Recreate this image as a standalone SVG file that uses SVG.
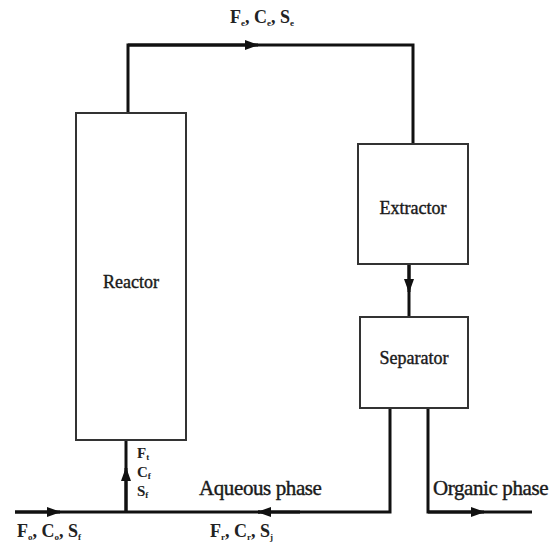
<svg xmlns="http://www.w3.org/2000/svg" width="560" height="550" viewBox="0 0 560 550">
<defs>
<marker id="ah" viewBox="0 0 14 10" refX="13" refY="5" markerWidth="14" markerHeight="10" markerUnits="userSpaceOnUse" orient="auto">
<path d="M0,0 L14,5 L0,10 Z" fill="#111"/>
</marker>
</defs>
<style>
.box{fill:#fff;stroke:#333;stroke-width:2}
.ln{fill:none;stroke:#111;stroke-width:3}
.t{font-family:"Liberation Serif","Times New Roman",serif;font-size:18px;fill:#1a1a1a;stroke:#1a1a1a;stroke-width:0.4}
.p{font-family:"Liberation Serif","Times New Roman",serif;font-size:21px;fill:#1a1a1a;stroke:#1a1a1a;stroke-width:0.4;letter-spacing:-0.4px}
.l{font-family:"Liberation Serif","Times New Roman",serif;font-size:18px;font-weight:bold;fill:#222}
.v{font-size:15px}
.s{font-size:9px}
</style>
<rect width="560" height="550" fill="#fff"/>
<g id="connectors">
<polyline class="ln" points="128,112 128,45 413,45 413,143"/>
<line class="ln" x1="128" y1="45" x2="258" y2="45" marker-end="url(#ah)"/>
<line class="ln" x1="409" y1="265" x2="409" y2="317"/>
<line class="ln" x1="409" y1="265" x2="409" y2="292" marker-end="url(#ah)"/>
<line class="ln" x1="15" y1="512" x2="260" y2="512"/>
<line class="ln" x1="15" y1="512" x2="60" y2="512" marker-end="url(#ah)"/>
<line class="ln" x1="126" y1="512" x2="126" y2="440"/>
<line class="ln" x1="126" y1="512" x2="126" y2="468" marker-end="url(#ah)"/>
<polyline class="ln" points="390,409 390,512 258,512"/>
<line class="ln" x1="300" y1="512" x2="258" y2="512" marker-end="url(#ah)"/>
<polyline class="ln" points="428,409 428,512 532,512"/>
<line class="ln" x1="428" y1="512" x2="484" y2="512" marker-end="url(#ah)"/>
</g>
<g id="reactor">
<rect class="box" x="76" y="113" width="110" height="327"/>
<text class="t" x="131" y="288" text-anchor="middle">Reactor</text>
</g>
<g id="extractor">
<rect class="box" x="358" y="144" width="110" height="120"/>
<text class="t" x="413" y="214" text-anchor="middle">Extractor</text>
</g>
<g id="separator">
<rect class="box" x="360" y="317" width="108" height="91"/>
<text class="t" x="414" y="364" text-anchor="middle">Separator</text>
</g>
<g id="labels">
<text class="l" x="230" y="23">F<tspan class="s" dy="3">e</tspan><tspan dy="-3">, C</tspan><tspan class="s" dy="3">e</tspan><tspan dy="-3">, S</tspan><tspan class="s" dy="3">e</tspan></text>
<text class="l v" x="137" y="458">F<tspan class="s" dy="2">t</tspan></text>
<text class="l v" x="137" y="477">C<tspan class="s" dy="2">f</tspan></text>
<text class="l v" x="137" y="496">S<tspan class="s" dy="2">f</tspan></text>
<text class="p" x="199" y="495">Aqueous phase</text>
<text class="p" x="433" y="495">Organic phase</text>
<text class="l" x="17" y="537">F<tspan class="s" dy="3">o</tspan><tspan dy="-3">, C</tspan><tspan class="s" dy="3">o</tspan><tspan dy="-3">, S</tspan><tspan class="s" dy="3">f</tspan></text>
<text class="l" x="210" y="537">F<tspan class="s" dy="3">r</tspan><tspan dy="-3">, C</tspan><tspan class="s" dy="3">r</tspan><tspan dy="-3">, S</tspan><tspan class="s" dy="3">j</tspan></text>
</g>
</svg>
